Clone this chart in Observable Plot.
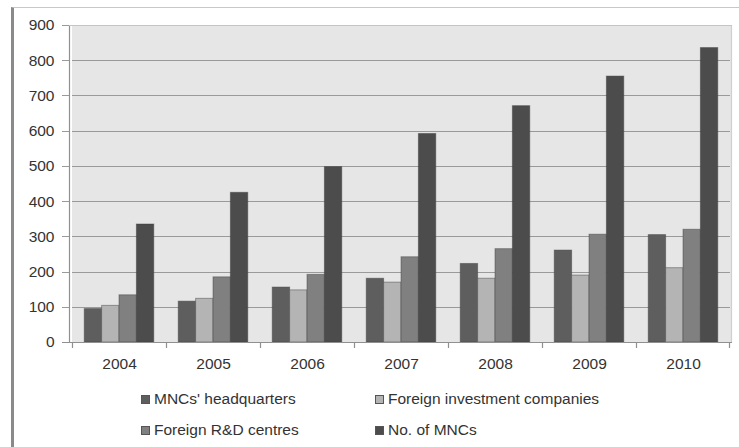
<!DOCTYPE html>
<html>
<head>
<meta charset="utf-8">
<script src="https://cdn.jsdelivr.net/npm/d3@7"></script>
<script src="https://cdn.jsdelivr.net/npm/@observablehq/plot@0.6"></script>
<style>
  html, body { margin: 0; padding: 0; background: #fff; }
  body { width: 739px; height: 447px; position: relative; overflow: hidden; font-family: "Liberation Sans", "DejaVu Sans", sans-serif; }
  #frame { position: absolute; left: 11px; top: 7px; width: 728px; height: 440px; border-left: 3px solid #8a8a8a; border-top: 1px solid #c8c8c8; box-sizing: border-box; }
  #chart { position: absolute; left: 0; top: 0; }
  #legend { position: absolute; left: 0; top: 390px; width: 739px; font-size: 15.5px; color: #333; }
  .item { position: absolute; display: flex; align-items: center; white-space: nowrap; }
  .sw { width: 9px; height: 9px; margin-right: 4px; box-sizing: border-box; border: 1px solid #555; }
</style>
</head>
<body>
<div id="frame"></div>
<div id="chart"></div>
<div id="legend"></div>
<script>
const years = ["2004", "2005", "2006", "2007", "2008", "2009", "2010"];
const seriesNames = ["MNCs' headquarters", "Foreign investment companies", "Foreign R&D centres", "No. of MNCs"];
const headquarters = [95, 116, 156, 181, 223, 261, 305];
const investmentCompanies = [104, 124, 148, 170, 181, 190, 211];
const rdCentres = [134, 185, 192, 242, 265, 306, 320];
const mncs = [335, 425, 498, 592, 671, 755, 836];
const yTicks = [0, 100, 200, 300, 400, 500, 600, 700, 800, 900];
const colors = ["#5e5e5e", "#b4b4b4", "#808080", "#4c4c4c"];

const seriesValues = [headquarters, investmentCompanies, rdCentres, mncs];
const data = [];
years.forEach((y, i) => {
  seriesNames.forEach((s, j) => data.push({year: y, series: s, value: seriesValues[j][i]}));
});

const W = 739, H = 375;
const mL = 69, mR = 7, mT = 25, mB = 33;
const fontStack = "'Liberation Sans', sans-serif";

const plot = Plot.plot({
  width: W,
  height: H,
  marginLeft: mL,
  marginRight: mR,
  marginTop: mT,
  marginBottom: mB,
  style: {fontFamily: fontStack, fontSize: "15.5px", color: "#333", background: "transparent"},
  fx: {domain: years, padding: 0, label: null, axis: null},
  x: {domain: seriesNames, paddingInner: 0, paddingOuter: 0.705, round: false, axis: null},
  y: {domain: [0, 900], label: null, axis: null},
  color: {domain: seriesNames, range: colors},
  marks: [
    Plot.frame({fill: "#e6e6e6", stroke: "#e6e6e6", strokeWidth: 1, shapeRendering: "crispEdges"}),
    Plot.gridY(yTicks, {stroke: "#9a9a9a", strokeOpacity: 1, strokeWidth: 1, shapeRendering: "crispEdges"}),
    Plot.barY(data, {
      fx: "year",
      x: "series",
      y: "value",
      fill: "series",
      stroke: "#3c3c3c",
      strokeOpacity: 0.45,
      strokeWidth: 1
    }),
    Plot.axisFx({anchor: "bottom", tickSize: 0, tickPadding: 15, label: null, fontSize: 15.5}),
    Plot.axisY(yTicks, {anchor: "left", tickSize: 0, tickPadding: 18, label: null, fontSize: 15.5})
  ]
});
document.getElementById("chart").appendChild(plot);

// plot-area edges, left tick stubs and baseline with band-boundary ticks, positioned via the plot's scales
const svg = d3.select(plot);
const fxs = plot.scale("fx");
const ys = plot.scale("y");
const bw = fxs.bandwidth;
const g = svg.append("g").attr("stroke", "#909090").attr("stroke-width", 1.2);
yTicks.forEach(t => {
  g.append("line").attr("x1", mL - 7).attr("x2", mL).attr("y1", Math.round(ys.apply(t)) + 0.5).attr("y2", Math.round(ys.apply(t)) + 0.5).attr("stroke", "#9a9a9a").attr("stroke-width", 1);
});
g.append("line").attr("x1", mL + 0.5).attr("x2", mL + 0.5).attr("y1", ys.apply(900)).attr("y2", ys.apply(0));
g.append("line").attr("x1", W - mR - 0.5).attr("x2", W - mR - 0.5).attr("y1", ys.apply(900)).attr("y2", ys.apply(0)).attr("stroke", "#d0d0d0");
g.append("line").attr("x1", mL).attr("x2", W - mR).attr("y1", ys.apply(900) + 0.5).attr("y2", ys.apply(900) + 0.5).attr("stroke", "#c4c4c4");
g.append("line").attr("x1", mL - 7).attr("x2", W - mR).attr("y1", ys.apply(0) + 0.5).attr("y2", ys.apply(0) + 0.5);
years.forEach(y => {
  const x = Math.round(fxs.apply(y));
  g.append("line").attr("x1", x + 0.5).attr("x2", x + 0.5).attr("y1", ys.apply(0)).attr("y2", ys.apply(0) + 6);
});
const xe = Math.round(fxs.apply(years[years.length - 1]) + bw);
g.append("line").attr("x1", xe - 0.5).attr("x2", xe - 0.5).attr("y1", ys.apply(0)).attr("y2", ys.apply(0) + 6);

// legend
const legend = document.getElementById("legend");
const positions = [[141, 0], [375, 0], [141, 31], [375, 31]];
seriesNames.forEach((s, i) => {
  const it = document.createElement("div");
  it.className = "item";
  it.style.left = positions[i][0] + "px";
  it.style.top = positions[i][1] + "px";
  const sw = document.createElement("span");
  sw.className = "sw";
  sw.style.background = colors[i];
  const t = document.createElement("span");
  t.textContent = s;
  it.appendChild(sw);
  it.appendChild(t);
  legend.appendChild(it);
});
</script>
</body>
</html>
